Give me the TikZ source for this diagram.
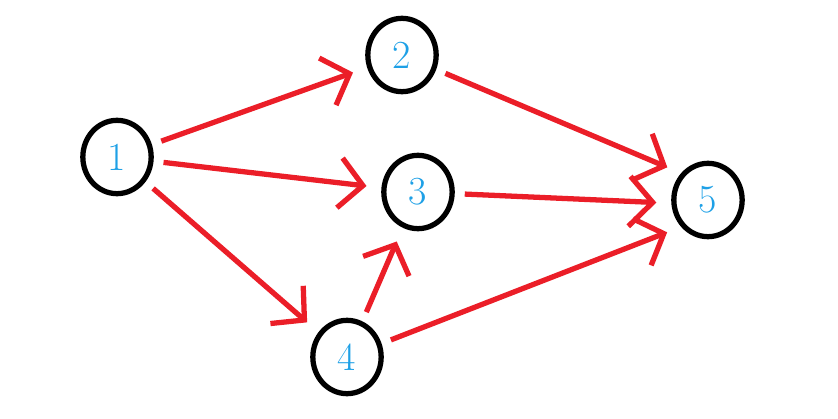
\documentclass[tikz,border=0pt]{standalone}
\usetikzlibrary{shapes.geometric,arrows.meta}
\definecolor{numblue}{RGB}{30,160,230}
\definecolor{edgered}{RGB}{235,30,40}
\tikzset{
  vertex/.style={ellipse, draw=black, line width=4.5pt, minimum width=2.05cm,
    minimum height=2.2cm, inner sep=0pt, text=numblue,
    font=\fontsize{34}{38}\selectfont},
  edge/.style={draw=edgered, line width=4.5pt,
    -{Straight Barb[length=0.7cm, width=1.5cm, line width=4.5pt]},
    shorten <=0.3cm, shorten >=0.45cm}
}
\begin{document}
\begin{tikzpicture}[x=0.03cm, y=-0.03cm]
\useasboundingbox (0,0) rectangle (838,419);
% Vertices
    \node[vertex] (n1) at (117,157) {1};
    \node[vertex] (n2) at (402,55)  {2};
    \node[vertex] (n3) at (418,192) {3};
    \node[vertex] (n4) at (347,357) {4};
    \node[vertex] (n5) at (708,200) {5};
% Edges
    \draw[edge] (n1) -- (n2);
    \draw[edge] (n1) -- (n3);
    \draw[edge] (n1) -- (n4);
    \draw[edge] (n2) -- (n5.135);
    \draw[edge] (n3) -- (n5.185);
    \draw[edge] (n4) -- (n3);
    \draw[edge] (n4) -- (n5.225);
\end{tikzpicture}
\end{document}
